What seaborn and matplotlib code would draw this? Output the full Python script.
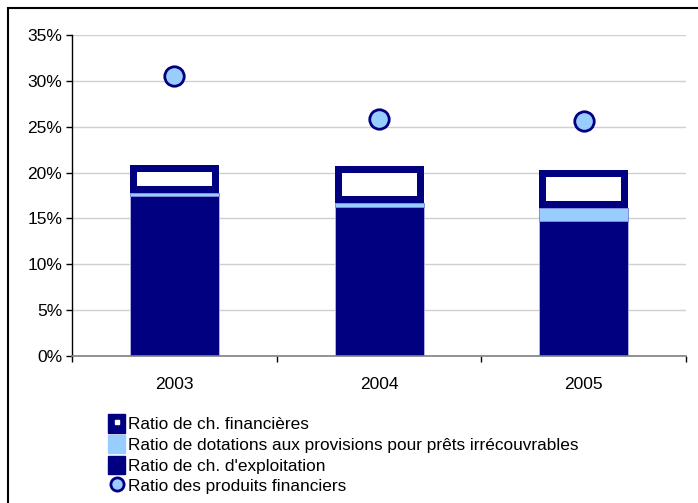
import matplotlib.pyplot as plt
import numpy as np
import seaborn as sns
from matplotlib.lines import Line2D
from matplotlib.patches import Patch, Rectangle
from matplotlib.ticker import PercentFormatter, FixedLocator
from matplotlib.legend_handler import HandlerTuple

years = ["2003", "2004", "2005"]
ch_exploitation = [0.175, 0.163, 0.147]
dotations = [0.003, 0.004, 0.014]
ch_financieres = [0.030, 0.040, 0.042]
produits_financiers = [0.305, 0.258, 0.256]

labels = ["Ratio de ch. financières",
          "Ratio de dotations aux provisions pour prêts irrécouvrables",
          "Ratio de ch. d'exploitation",
          "Ratio des produits financiers"]

navy = "#000080"
light_blue = "#99CCFF"

sns.set_style("white")
plt.rcParams["font.family"] = ["Liberation Sans", "DejaVu Sans"]
plt.rcParams["text.color"] = "black"
plt.rcParams["xtick.color"] = "black"
plt.rcParams["ytick.color"] = "black"

fig = plt.figure(figsize=(6.98, 5.03), dpi=100)
ax = fig.add_axes([0.1032, 0.2922, 0.8796, 0.6382])

bottom2 = np.array(ch_exploitation) + np.array(dotations)

sns.barplot(x=years, y=ch_exploitation, color=navy, width=0.435,
            edgecolor="#b8b8e8", linewidth=0.6, saturation=1, ax=ax)
sns.barplot(x=years, y=dotations, bottom=ch_exploitation, color=light_blue,
            width=0.435, edgecolor="#6f7fd0", linewidth=0.6, saturation=1, ax=ax)
sns.barplot(x=years, y=ch_financieres, bottom=bottom2, color="white",
            width=0.435, edgecolor=navy, linewidth=10.1, saturation=1, ax=ax)
# keep the thick edge inside the bar
for bar in ax.containers[-1]:
    bar.set_clip_path(bar)

sns.stripplot(x=years, y=produits_financiers, jitter=False, size=14,
              color=light_blue, edgecolor=navy, linewidth=2, ax=ax, zorder=5)

ax.set_ylim(0, 0.35)
ax.set_xlim(-0.5, 2.5)
ax.yaxis.set_major_formatter(PercentFormatter(1.0, decimals=0))
ax.set_yticks(np.arange(0, 0.351, 0.05))
ax.yaxis.grid(True, color="#d0d0d0", linewidth=1)
ax.set_axisbelow(True)
for s in ["top", "right"]:
    ax.spines[s].set_visible(False)
ax.spines["left"].set_color("black")
ax.spines["left"].set_linewidth(1)
ax.spines["bottom"].set_color("#808080")
ax.spines["bottom"].set_linewidth(1.2)
ax.tick_params(axis="y", which="major", left=True, length=4, width=1,
               color="black", labelsize=12.5, pad=3)
ax.tick_params(axis="x", which="major", length=0, labelsize=12.5, pad=15)
ax.xaxis.set_minor_locator(FixedLocator([-0.5, 0.5, 1.5, 2.5]))
ax.tick_params(axis="x", which="minor", bottom=True, length=4, width=1, color="black")

handles = [
    (Patch(facecolor=navy, edgecolor=navy),
     Line2D([], [], marker="s", color="white", markersize=2.5, linestyle="none")),
    Patch(facecolor=light_blue, edgecolor=light_blue),
    Patch(facecolor=navy, edgecolor=navy),
    Line2D([], [], marker="o", markerfacecolor=light_blue, markeredgecolor=navy,
           markeredgewidth=2, markersize=9.5, linestyle="none"),
]
fig.legend(handles, labels, loc="upper left", bbox_to_anchor=(0.155, 0.176),
           bbox_transform=fig.transFigure, frameon=False, fontsize=12.4,
           handlelength=1.0, handleheight=1.25, handletextpad=0.15,
           labelspacing=0.14, borderaxespad=0, borderpad=0,
           handler_map={tuple: HandlerTuple(ndivide=1)})

# frame around the whole picture
fig.patches.append(Rectangle((8 / 698, -0.01), 1.0, 1 - 8 / 503 + 0.01,
                             transform=fig.transFigure, fill=False,
                             edgecolor="black", linewidth=1.5))

fig.savefig("out.png", dpi=100)
